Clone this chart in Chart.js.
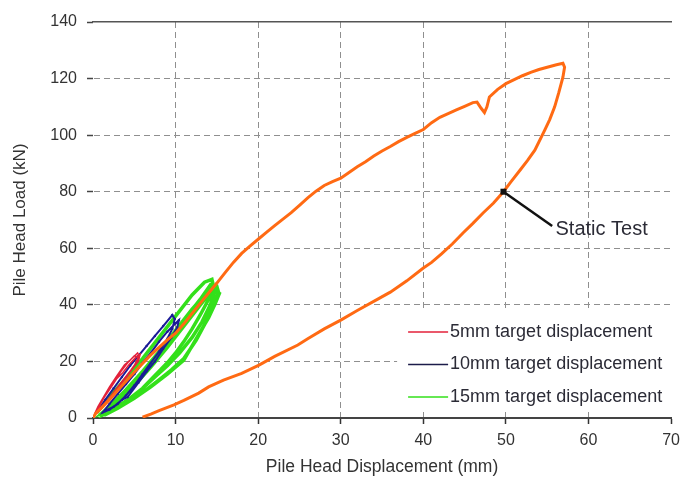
<!DOCTYPE html>
<html>
<head>
<meta charset="utf-8">
<script src="https://cdn.jsdelivr.net/npm/chart.js@4.4.1/dist/chart.umd.min.js"></script>
<style>
  html, body { margin: 0; padding: 0; background: #fff; }
  #wrap { width: 687px; height: 486px; }
</style>
</head>
<body>
<div id="wrap"><canvas id="c" width="687" height="486"></canvas></div>
<script>
// Static load test: loading branch up to peak, then unloading branch
const staticDisp = [0, 0.3, 1, 2, 3, 4, 5, 6, 7, 8, 9, 10, 11, 12, 13, 14, 15, 16, 17, 18, 19, 20,
  21, 22, 23, 24, 25, 26, 27, 28, 29, 30, 31, 32, 33, 34, 35, 36, 37, 38, 39, 40, 41, 42, 43, 44, 45, 46,
  46.5, 47, 47.4, 47.7, 48, 49, 50, 51, 52, 53, 54, 55, 56, 56.9, 57.1, 56.9, 56.4, 55.9, 55.3, 54.7,
  53.5, 52.6, 51.7, 50.6, 49.7, 48.5, 47.2, 46, 44.8, 43.5, 42.2, 41, 40, 38, 36, 34.7, 32, 30, 28, 26,
  24.8, 22, 20.1, 18, 15.8, 14, 12.8, 11, 9.8, 8, 7, 6];
const staticLoad = [0, 1.5, 3.5, 6.5, 9.8, 13, 16.2, 19.3, 22.3, 25, 27.6, 30, 33.3, 37, 40.6, 44.2, 47.7, 51.4, 55, 58.2, 60.8, 63.2,
  65.6, 68, 70.3, 72.6, 75.2, 77.8, 80.2, 82.2, 83.6, 84.8, 86.8, 88.8, 90.6, 92.6, 94.4, 96, 97.7, 99.2, 100.6, 102, 104.4, 106.3, 107.6, 108.9, 110.2, 111.5,
  111.7, 109.5, 108, 110, 113.5, 116.2, 118.2, 119.6, 121, 122.2, 123.2, 124, 124.8, 125.4, 124, 120.5, 115, 110, 105.5, 101.8,
  94.7, 91, 87.6, 83.5, 80, 76, 72.4, 68.8, 65.4, 61.5, 58, 55, 53, 48.5, 44.5, 42.4, 38, 34.6, 31.5, 28,
  25.8, 21.8, 18.7, 15.8, 13.4, 11, 8.8, 6.2, 4.6, 2.6, 1.4, 0.3];

// Cyclic tests, 5 mm target displacement
const redDisp = [0.2, 0.6, 1.2, 2, 2.8, 3.8, 4.5, 5.4, 5.6, 5.2, 4.6, 3.8, 3, 2.2, 1.4, 0.6, 0.3,
  0.4, 1, 1.8, 2.6, 3.4, 4.2, 5, 5.5, 5, 4.2, 3.4, 2.6, 1.8, 1, 0.5,
  0.5, 1.3, 2.1, 2.9, 3.6, 4.4, 5.2, 5.7, 5.5, 4.8, 4, 3.2, 2.3, 1.5, 0.7];
const redLoad = [1.5, 4, 7, 11, 14.5, 18.7, 20.5, 23, 22, 19.5, 17, 14, 11, 8, 5, 2.5, 1.5,
  2, 5.5, 9.5, 13, 16.5, 19.5, 22, 21.5, 18.5, 15, 12, 9, 6.2, 3.5, 2,
  2.5, 7, 10.5, 14, 16, 19, 21.5, 22.5, 20, 17.5, 14.2, 11.5, 8.2, 5.5, 3];

// Cyclic tests, 10 mm target displacement
const blueDisp = [0.5, 1.5, 2.5, 3.5, 4.5, 5.5, 6.5, 7.5, 8.5, 9.6, 9.9, 9.6, 9, 8, 7, 6, 5, 4, 3, 2, 1.2,
  2, 3, 4, 5, 6, 7, 8, 9, 10, 10.4, 10.2, 9.5, 8.5, 7.5, 6.5, 5.5, 4.2, 3.5, 2.5, 1.5];
const blueLoad = [2, 6.5, 10.5, 14.5, 18.5, 22, 25.5, 29, 32.5, 36.4, 35, 31.5, 28, 23.5, 19.5, 15.5, 11.5, 8, 5, 3, 2,
  5, 8.5, 12, 15.5, 19.5, 23, 27, 30.5, 33.5, 34.6, 32, 28.5, 24.5, 20, 16.5, 12.5, 7.4, 6.4, 4, 2.5];

// Cyclic tests, 15 mm target displacement
const greenDisp = [0.5, 2, 4, 6, 8, 10, 12, 13.5, 14.4, 14.6, 14, 13, 12, 11, 10, 9, 8, 7, 6, 5, 4, 3, 2, 1,
  2.5, 4, 6, 8, 10, 12, 14, 15, 15.2, 14.5, 13.5, 12.5, 11, 9.5, 8, 6, 4, 2.5, 1.5,
  3, 5, 7, 9, 11, 13, 14.5, 15.3, 14.8, 14, 13, 12, 11, 9, 7, 5, 3, 1.5,
  1, 3, 5, 7, 9, 11, 13, 14.2, 14.8, 14.2, 13.2, 12, 10.5, 9, 7.5, 6, 4.5, 3, 1.5];
const greenLoad = [2, 7.5, 14, 21, 28.5, 36, 43.5, 48, 49, 46.5, 42, 36.5, 31.5, 27, 23, 19.5, 16.5, 13.5, 10.5, 8, 6, 4, 2.5, 1.5,
  5.5, 10, 16.5, 23.5, 31, 38.5, 45, 46.5, 44.5, 39, 33, 27.5, 21, 17, 13.5, 9, 5.2, 2.8, 1.5,
  5.5, 11.5, 18, 25, 32.5, 40, 45.5, 44, 40.5, 35.5, 30.5, 25.5, 20.5, 15.5, 11, 7, 3.5, 1.2,
  1.5, 6.5, 12.5, 19.5, 27, 34.5, 42, 47, 45, 40, 34, 28.5, 23, 18.5, 14.5, 10.5, 7, 4.2, 2];

const seriesLabels = ['5mm target displacement', '10mm target displacement', '15mm target displacement'];

// Callout for the static test point
const calloutPoint = { x: 49.7, y: 80 };
const calloutEnd = { x: 55.6, y: 67.9 };
const calloutText = 'Static Test';
const calloutTextPos = { x: 56.0, y: 66.6 };

const FONT = '"Liberation Sans", Arial, sans-serif';

function pts(xs, ys) { return xs.map((x, i) => ({ x: x, y: ys[i] })); }

const legendBox = {
  id: 'legendBox',
  beforeDatasetsDraw(chart) {
    const { ctx, chartArea } = chart;
    const x0 = chartArea.right - 270, y0 = chartArea.bottom - 106;
    ctx.save();
    ctx.fillStyle = '#ffffff';
    ctx.fillRect(x0 - 4, y0, 280, 100);
    ctx.font = '18px ' + FONT;
    ctx.textBaseline = 'middle';
    ctx.textAlign = 'left';
    chart.data.datasets.filter(d => d.inLegend).forEach((d, i) => {
      const y = y0 + 20 + i * 32.5;
      ctx.strokeStyle = d.legendColor || d.borderColor;
      ctx.lineWidth = 1.5;
      ctx.beginPath(); ctx.moveTo(x0 + 7, y); ctx.lineTo(x0 + 47, y); ctx.stroke();
      ctx.fillStyle = '#2b2b36';
      ctx.fillText(d.label, x0 + 49, y);
    });
    ctx.restore();
  }
};

const callout = {
  id: 'callout',
  afterDatasetsDraw(chart) {
    const { ctx, scales } = chart;
    const px = scales.x.getPixelForValue(calloutPoint.x), py = scales.y.getPixelForValue(calloutPoint.y);
    const ex = scales.x.getPixelForValue(calloutEnd.x), ey = scales.y.getPixelForValue(calloutEnd.y);
    ctx.save();
    ctx.strokeStyle = '#111';
    ctx.lineWidth = 2.5;
    ctx.beginPath(); ctx.moveTo(px, py); ctx.lineTo(ex, ey); ctx.stroke();
    ctx.fillStyle = '#111';
    ctx.fillRect(px - 3, py - 3, 6, 6);
    ctx.font = '20px ' + FONT;
    ctx.fillStyle = '#2b2b36';
    ctx.textBaseline = 'middle';
    ctx.fillText(calloutText, scales.x.getPixelForValue(calloutTextPos.x), scales.y.getPixelForValue(calloutTextPos.y));
    ctx.restore();
  }
};

new Chart(document.getElementById('c'), {
  type: 'scatter',
  data: {
    datasets: [
      { label: 'Static test', data: pts(staticDisp, staticLoad), showLine: true, borderColor: '#FF6A13', borderWidth: 3, pointRadius: 0, tension: 0, inLegend: false },
      { label: seriesLabels[0], data: pts(redDisp, redLoad), showLine: true, borderColor: '#E3213A', borderWidth: 1.5, pointRadius: 0, inLegend: true },
      { label: seriesLabels[1], data: pts(blueDisp, blueLoad), showLine: true, borderColor: '#1B1B96', borderWidth: 2, pointRadius: 1.2, pointBackgroundColor: '#1B1B96', pointBorderWidth: 0, inLegend: true, legendColor: '#1c1c4a' },
      { label: seriesLabels[2], data: pts(greenDisp, greenLoad), showLine: true, borderColor: '#33E01A', borderWidth: 3.5, pointRadius: 0, inLegend: true }
    ]
  },
  options: {
    responsive: false,
    animation: false,
    devicePixelRatio: 1,
    layout: { padding: { top: 22, right: 10, left: 0, bottom: 0 } },
    plugins: { legend: { display: false }, tooltip: { enabled: false } },
    scales: {
      x: {
        type: 'linear', min: 0, max: 70,
        ticks: { stepSize: 10, padding: 7, color: '#333', font: { family: FONT, size: 16 } },
        grid: {
          color: c => (c.tick && (c.tick.value === 0 || c.tick.value === 70)) ? 'rgba(0,0,0,0)' : '#8f8f8f',
          lineWidth: 1, tickLength: 6, tickColor: '#333', tickWidth: 1.5
        },
        border: { display: true, color: '#444', width: 2, dash: [6, 4] },
        title: { display: true, text: 'Pile Head Displacement (mm)', color: '#333', font: { family: FONT, size: 17.5 }, padding: { top: 0, bottom: 8 } },
        afterFit(s) { s.height = 68; }
      },
      x2: {
        type: 'linear', position: 'top', min: 0, max: 70,
        ticks: { display: false },
        grid: { display: false, drawTicks: false },
        border: { display: true, color: '#555', width: 1.5 },
        afterFit(s) { s.height = 0; }
      },
      y: {
        type: 'linear', min: 0, max: 140,
        ticks: { stepSize: 20, padding: 10, color: '#333', font: { family: FONT, size: 16 } },
        grid: {
          color: c => (c.tick && (c.tick.value === 0 || c.tick.value === 140)) ? 'rgba(0,0,0,0)' : '#8f8f8f',
          lineWidth: 1, tickLength: 6, tickColor: '#444', tickWidth: 1.5
        },
        border: { display: true, color: 'rgba(0,0,0,0)', width: 1, dash: [6, 4] },
        title: { display: true, text: 'Pile Head Load (kN)', color: '#333', font: { family: FONT, size: 17 }, padding: { top: 10, bottom: 0 } },
        afterFit(s) { s.width = 93; }
      }
    }
  },
  plugins: [legendBox, callout]
});
</script>
</body>
</html>
